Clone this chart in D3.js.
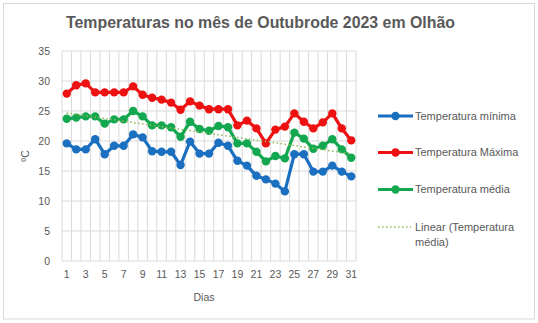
<!DOCTYPE html>
<html><head><meta charset="utf-8">
<script src="https://cdn.jsdelivr.net/npm/d3@7"></script>
<style>body{margin:0;background:#fff}svg{display:block}text{font-family:"Liberation Sans",Arial,sans-serif}</style>
</head><body>
<script>
const days = d3.range(1, 32).map(String);
const tempMin = [19.6,18.6,18.6,20.3,17.8,19.2,19.2,21.1,20.6,18.3,18.2,18.2,16.0,19.9,17.9,17.9,19.7,19.2,16.7,15.9,14.2,13.6,12.9,11.6,17.8,17.8,14.9,14.9,15.9,14.9,14.1];
const tempMax = [27.9,29.3,29.6,28.1,28.1,28.1,28.1,29.1,27.7,27.2,26.9,26.4,25.2,26.6,25.9,25.3,25.3,25.3,22.6,23.4,22.1,19.6,21.9,22.4,24.6,23.2,22.1,23.1,24.6,22.1,20.1];
const tempMed = [23.7,23.9,24.1,24.1,22.9,23.6,23.6,25.0,24.1,22.6,22.6,22.3,20.7,23.2,22.0,21.7,22.5,22.3,19.6,19.6,18.2,16.6,17.5,17.1,21.4,20.4,18.7,19.2,20.3,18.6,17.2];
const yTicks = [0,5,10,15,20,25,30,35];
const xTickLabels = days.filter((d,i)=>i%2===0);
const seriesNames = ["Temperatura mínima","Temperatura Máxima","Temperatura média"];
const seriesColors = ["#1a6fc0","#ee1111","#13a850"];
const trendName = ["Linear (Temperatura","média)"];

const W = 538, H = 323;
const svg = d3.select("body").append("svg").attr("width", W).attr("height", H);
svg.append("rect").attr("x",3.5).attr("y",3.5).attr("width",531).attr("height",315.5)
  .attr("fill","#fff").attr("stroke","#d9d9d9");

const x = d3.scaleBand().domain(days).range([62, 356]);
const y = d3.scaleLinear().domain([0, 35]).range([261, 51]);
const cx = d => x(d) + x.bandwidth()/2;

// gridlines
const g = svg.append("g");
g.selectAll(".hg").data(yTicks).join("line")
  .attr("x1", 62).attr("x2", 356).attr("y1", d=>y(d)).attr("y2", d=>y(d))
  .attr("stroke","#d9d9d9").attr("stroke-width",1);
g.selectAll(".vg").data(days.concat(["end"])).join("line")
  .attr("x1", d=> d==="end" ? 356 : x(d)).attr("x2", d=> d==="end" ? 356 : x(d))
  .attr("y1", y(35)).attr("y2", y(0))
  .attr("stroke","#d9d9d9").attr("stroke-width",1);

// axes
const ya = svg.append("g").attr("transform","translate(62,0)")
  .call(d3.axisLeft(y).tickValues(yTicks).tickSize(0).tickPadding(12));
ya.select(".domain").remove();
ya.selectAll("text").attr("fill","#595959").style("font-size","10.5px");

const xa = svg.append("g").attr("transform","translate(0,261)")
  .call(d3.axisBottom(x).tickValues(xTickLabels).tickSize(0).tickPadding(10));
xa.select(".domain").remove();
xa.selectAll("text").attr("fill","#595959").style("font-size","10.5px");

// trendline (least squares linear fit of the mean series)
const n = tempMed.length;
const xs = d3.range(1, n+1);
const mx = d3.mean(xs), my = d3.mean(tempMed);
const slope = d3.sum(xs.map((xi,i)=>(xi-mx)*(tempMed[i]-my))) / d3.sum(xs.map(xi=>(xi-mx)**2));
const icpt = my - slope*mx;

// series
const allSeries = [tempMin, tempMax, tempMed];
const line = d3.line().x((v,i)=>cx(days[i])).y(v=>y(v));
allSeries.forEach((vals, k) => {
  const sg = svg.append("g");
  sg.append("path").datum(vals).attr("d", line).attr("fill","none")
    .attr("stroke", seriesColors[k]).attr("stroke-width",3.2).attr("stroke-linejoin","round");
  sg.selectAll("circle").data(vals).join("circle")
    .attr("cx",(v,i)=>cx(days[i])).attr("cy",v=>y(v)).attr("r",4.2).attr("fill",seriesColors[k]);
});
svg.append("line").attr("x1",cx(days[0])).attr("x2",cx(days[n-1]))
  .attr("y1",y(icpt+slope*1)).attr("y2",y(icpt+slope*n))
  .attr("stroke","#8fb85a").attr("stroke-width",1.5).attr("stroke-dasharray","1.5,2.5");

// title
svg.append("text").attr("x",260.5).attr("y",28).attr("text-anchor","middle")
  .attr("fill","#595959").style("font-size","16.5px").style("font-weight","bold")
  .attr("textLength",389).attr("lengthAdjust","spacingAndGlyphs")
  .text("Temperaturas no mês de Outubrode 2023 em Olhão");

// axis titles
svg.append("text").attr("x",204).attr("y",301).attr("text-anchor","middle")
  .attr("fill","#595959").style("font-size","10.5px").text("Dias");
svg.append("text").attr("transform","translate(29,156) rotate(-90)").attr("text-anchor","middle")
  .attr("fill","#595959").style("font-size","10.5px").text("ºC");

// legend
const lg = svg.append("g");
const ly = [116, 152.5, 189.5];
seriesNames.forEach((name,k)=>{
  lg.append("line").attr("x1",378).attr("x2",413).attr("y1",ly[k]).attr("y2",ly[k])
    .attr("stroke",seriesColors[k]).attr("stroke-width",3.2);
  lg.append("circle").attr("cx",395.5).attr("cy",ly[k]).attr("r",4.2).attr("fill",seriesColors[k]);
  lg.append("text").attr("x",415).attr("y",ly[k]+3.8).attr("fill","#595959")
    .style("font-size","11px").text(name);
});
lg.append("line").attr("x1",378).attr("x2",411).attr("y1",227).attr("y2",227)
  .attr("stroke","#8fb85a").attr("stroke-width",1.5).attr("stroke-dasharray","1.5,2.5");
lg.append("text").attr("x",415).attr("y",230.8).attr("fill","#595959").style("font-size","11px").text(trendName[0]);
lg.append("text").attr("x",415).attr("y",245.5).attr("fill","#595959").style("font-size","11px").text(trendName[1]);
</script>
</body></html>
